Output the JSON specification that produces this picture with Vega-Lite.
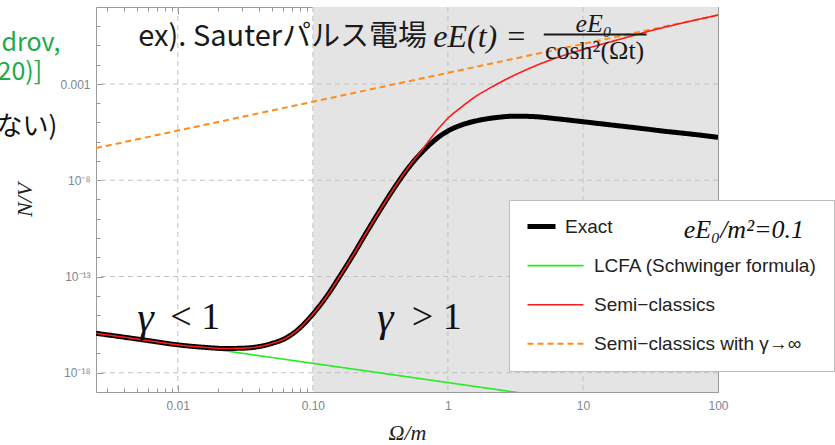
{
  "$schema": "https://vega.github.io/schema/vega-lite/v6.json",
  "width": 622,
  "height": 385,
  "autosize": {"type": "none"},
  "padding": {"left": 96, "top": 7, "right": 117, "bottom": 53},
  "background": "white",
  "config": {
    "view": {"stroke": "#9a9a9a", "strokeWidth": 1},
    "axis": {
      "labelFont": "Liberation Sans", "labelFontSize": 12, "labelColor": "#7d8591",
      "tickColor": "#9a9a9a", "tickWidth": 1, "domain": false, "grid": false,
      "labelOverlap": false, "labelFlush": false, "labelBound": false,
      "titleFont": "Liberation Serif", "titleFontStyle": "italic", "titleFontWeight": "normal",
      "titleFontSize": 22, "titleColor": "#222222"
    },
    "legend": {
      "orient": "none", "legendX": 413, "legendY": 193,
      "fillColor": "white", "strokeColor": "#bdbdbd", "padding": 17,
      "symbolType": "M-2.8,0H2.8", "symbolSize": 400, "symbolStrokeWidth": 1.6, "symbolOffset": 20,
      "labelFont": "Liberation Sans", "labelFontSize": 19, "labelColor": "#222222", "labelOffset": 29, "labelLimit": 400,
      "rowPadding": 19.1,
      "titleFont": "Liberation Serif", "titleFontStyle": "italic", "titleFontWeight": "normal", "titleFontSize": 26,
      "titleColor": "#111111", "titleAnchor": "end", "titlePadding": -26, "titleLimit": 400
    }
  },
  "datasets": {
    "shade": [{"x0": 0.1, "x1": 100}],
    "gridx": [{"v": 0.01}, {"v": 0.1}, {"v": 1}, {"v": 10}],
    "gridy": [{"v": 1e-18}, {"v": 1e-13}, {"v": 1e-8}, {"v": 0.001}],
    "curves": [
      {"s": "LCFA (Schwinger formula)", "x": 0.00248, "y": 1.24e-16},
      {"s": "LCFA (Schwinger formula)", "x": 0.01, "y": 3.09e-17},
      {"s": "LCFA (Schwinger formula)", "x": 0.1, "y": 3.09e-18},
      {"s": "LCFA (Schwinger formula)", "x": 1, "y": 3.09e-19},
      {"s": "LCFA (Schwinger formula)", "x": 3.5, "y": 8.8e-20},
      {"s": "Semi−classics with γ→∞", "x": 0.00248, "y": 4.68e-7},
      {"s": "Semi−classics with γ→∞", "x": 0.01, "y": 3.8e-6},
      {"s": "Semi−classics with γ→∞", "x": 0.1, "y": 1.2e-4},
      {"s": "Semi−classics with γ→∞", "x": 1, "y": 3.8e-3},
      {"s": "Semi−classics with γ→∞", "x": 10, "y": 0.12},
      {"s": "Semi−classics with γ→∞", "x": 100, "y": 3.8},
      {"s": "Exact", "x": 0.00248, "y": 1.12e-16},
      {"s": "Exact", "x": 0.00398, "y": 7.08e-17},
      {"s": "Exact", "x": 0.00631, "y": 4.47e-17},
      {"s": "Exact", "x": 0.01, "y": 2.82e-17},
      {"s": "Exact", "x": 0.0158, "y": 2.09e-17},
      {"s": "Exact", "x": 0.0224, "y": 1.82e-17},
      {"s": "Exact", "x": 0.0316, "y": 1.91e-17},
      {"s": "Exact", "x": 0.0398, "y": 2.29e-17},
      {"s": "Exact", "x": 0.0501, "y": 3.39e-17},
      {"s": "Exact", "x": 0.0631, "y": 6.31e-17},
      {"s": "Exact", "x": 0.0794, "y": 2.0e-16},
      {"s": "Exact", "x": 0.1, "y": 1.12e-15},
      {"s": "Exact", "x": 0.126, "y": 8.91e-15},
      {"s": "Exact", "x": 0.158, "y": 1e-13},
      {"s": "Exact", "x": 0.2, "y": 1.41e-12},
      {"s": "Exact", "x": 0.251, "y": 2.09e-11},
      {"s": "Exact", "x": 0.316, "y": 2.95e-10},
      {"s": "Exact", "x": 0.398, "y": 3.72e-9},
      {"s": "Exact", "x": 0.501, "y": 3.72e-8},
      {"s": "Exact", "x": 0.631, "y": 2.51e-7},
      {"s": "Exact", "x": 0.794, "y": 1.17e-6},
      {"s": "Exact", "x": 1, "y": 3.63e-6},
      {"s": "Exact", "x": 1.26, "y": 7.41e-6},
      {"s": "Exact", "x": 1.58, "y": 1.17e-5},
      {"s": "Exact", "x": 2.24, "y": 1.78e-5},
      {"s": "Exact", "x": 3.16, "y": 2.14e-5},
      {"s": "Exact", "x": 4.47, "y": 2.0e-5},
      {"s": "Exact", "x": 6.31, "y": 1.58e-5},
      {"s": "Exact", "x": 10, "y": 1.10e-5},
      {"s": "Exact", "x": 15.8, "y": 7.59e-6},
      {"s": "Exact", "x": 25.1, "y": 5.25e-6},
      {"s": "Exact", "x": 39.8, "y": 3.55e-6},
      {"s": "Exact", "x": 63.1, "y": 2.51e-6},
      {"s": "Exact", "x": 100, "y": 1.70e-6},
      {"s": "Semi−classics", "x": 0.00248, "y": 1.12e-16},
      {"s": "Semi−classics", "x": 0.00398, "y": 7.08e-17},
      {"s": "Semi−classics", "x": 0.00631, "y": 4.47e-17},
      {"s": "Semi−classics", "x": 0.01, "y": 2.82e-17},
      {"s": "Semi−classics", "x": 0.0158, "y": 2.09e-17},
      {"s": "Semi−classics", "x": 0.0224, "y": 1.82e-17},
      {"s": "Semi−classics", "x": 0.0316, "y": 1.91e-17},
      {"s": "Semi−classics", "x": 0.0398, "y": 2.29e-17},
      {"s": "Semi−classics", "x": 0.0501, "y": 3.39e-17},
      {"s": "Semi−classics", "x": 0.0631, "y": 6.31e-17},
      {"s": "Semi−classics", "x": 0.0794, "y": 2.0e-16},
      {"s": "Semi−classics", "x": 0.1, "y": 1.12e-15},
      {"s": "Semi−classics", "x": 0.126, "y": 8.91e-15},
      {"s": "Semi−classics", "x": 0.158, "y": 1e-13},
      {"s": "Semi−classics", "x": 0.2, "y": 1.41e-12},
      {"s": "Semi−classics", "x": 0.251, "y": 2.09e-11},
      {"s": "Semi−classics", "x": 0.316, "y": 2.95e-10},
      {"s": "Semi−classics", "x": 0.398, "y": 3.72e-9},
      {"s": "Semi−classics", "x": 0.501, "y": 3.98e-8},
      {"s": "Semi−classics", "x": 0.631, "y": 3.16e-7},
      {"s": "Semi−classics", "x": 0.794, "y": 2.63e-6},
      {"s": "Semi−classics", "x": 1, "y": 1.66e-5},
      {"s": "Semi−classics", "x": 1.26, "y": 6.31e-5},
      {"s": "Semi−classics", "x": 1.58, "y": 2.09e-4},
      {"s": "Semi−classics", "x": 2.0, "y": 5.62e-4},
      {"s": "Semi−classics", "x": 2.51, "y": 1.35e-3},
      {"s": "Semi−classics", "x": 3.16, "y": 3.02e-3},
      {"s": "Semi−classics", "x": 3.98, "y": 6.31e-3},
      {"s": "Semi−classics", "x": 5.01, "y": 1.23e-2},
      {"s": "Semi−classics", "x": 6.31, "y": 2.24e-2},
      {"s": "Semi−classics", "x": 7.94, "y": 3.8e-2},
      {"s": "Semi−classics", "x": 10, "y": 6.17e-2},
      {"s": "Semi−classics", "x": 15.8, "y": 0.151},
      {"s": "Semi−classics", "x": 25.1, "y": 0.372},
      {"s": "Semi−classics", "x": 39.8, "y": 0.871},
      {"s": "Semi−classics", "x": 63.1, "y": 1.86},
      {"s": "Semi−classics", "x": 100, "y": 3.8}
    ],
    "notes": [
      {"g": "jp", "t": "ex). Sauterパルス電場", "x": 0.0051, "y": 0.275},
      {"g": "mathI", "t": "eE(t)  =", "x": 0.78, "y": 0.275},
      {"g": "num", "t": "eE₀", "x": 12.0, "y": 1.31},
      {"g": "den", "t": "cosh²(Ωt)", "x": 12.2, "y": 0.0513},
      {"g": "gamma", "t": "γ", "x": 0.00501, "y": 6.9e-16},
      {"g": "gamma", "t": "γ", "x": 0.2985, "y": 6.9e-16},
      {"g": "rel", "t": "< 1", "x": 0.0088, "y": 6.9e-16},
      {"g": "rel", "t": "> 1", "x": 0.54, "y": 6.9e-16},
      {"g": "green", "t": "drov,", "x": 0.000495, "y": 0.135},
      {"g": "green", "t": "20)]", "x": 0.000463, "y": 0.0042},
      {"g": "side", "t": "ない)", "x": 0.000455, "y": 5.8e-6}
    ],
    "bar": [{"x": 5.13, "x2": 29.6, "y": 0.371}]
  },
  "layer": [
    {
      "data": {"name": "shade"},
      "mark": {"type": "rect", "color": "#e4e4e4"},
      "encoding": {
        "x": {"field": "x0", "type": "quantitative", "scale": {"type": "log", "domain": [0.00248, 100], "nice": false}, "axis": null},
        "x2": {"field": "x1"}
      }
    },
    {
      "data": {"name": "gridx"},
      "mark": {"type": "rule", "color": "#c2c2c2", "strokeWidth": 1, "strokeDash": [5, 4]},
      "encoding": {
        "x": {"field": "v", "type": "quantitative", "scale": {"type": "log", "domain": [0.00248, 100], "nice": false}, "axis": null}
      }
    },
    {
      "data": {"name": "gridy"},
      "mark": {"type": "rule", "color": "#c2c2c2", "strokeWidth": 1, "strokeDash": [5, 4]},
      "encoding": {
        "y": {"field": "v", "type": "quantitative", "scale": {"type": "log", "domain": [1e-19, 10], "nice": false}, "axis": null}
      }
    },
    {
      "data": {"name": "curves"},
      "transform": [{"filter": "datum.s === 'LCFA (Schwinger formula)'"}],
      "mark": {"type": "line", "strokeWidth": 1.6, "clip": true},
      "encoding": {
        "x": {"field": "x", "type": "quantitative", "scale": {"type": "log", "domain": [0.00248, 100], "nice": false},
          "axis": {"orient": "bottom", "title": "Ω/m", "titlePadding": 8, "labelPadding": 15,
            "values": [0.003,0.004,0.005,0.006,0.007,0.008,0.009,0.01,0.02,0.03,0.04,0.05,0.06,0.07,0.08,0.09,0.1,0.2,0.3,0.4,0.5,0.6,0.7,0.8,0.9,1,2,3,4,5,6,7,8,9,10,20,30,40,50,60,70,80,90,100],
            "labelExpr": "datum.value==0.01?'0.01':datum.value==0.1?'0.10':datum.value==1?'1':datum.value==10?'10':datum.value==100?'100':''",
            "tickSize": {"condition": {"test": "datum.value==0.01||datum.value==0.1||datum.value==1||datum.value==10||datum.value==100", "value": -7}, "value": -4}}},
        "y": {"field": "y", "type": "quantitative", "scale": {"type": "log", "domain": [1e-19, 10], "nice": false},
          "axis": {"orient": "left", "title": "N/V", "titlePadding": 23, "labelPadding": 13,
            "values": [1e-18,1e-17,1e-16,1e-15,1e-14,1e-13,1e-12,1e-11,1e-10,1e-9,1e-8,1e-7,1e-6,1e-5,1e-4,0.001,0.01,0.1,1],
            "labelExpr": "datum.value==0.001?'0.001':datum.value==1e-8?'10⁻⁸':datum.value==1e-13?'10⁻¹³':datum.value==1e-18?'10⁻¹⁸':''",
            "tickSize": {"condition": {"test": "datum.value==0.001||datum.value==1e-8||datum.value==1e-13||datum.value==1e-18", "value": -7}, "value": -4}}},
        "color": {"field": "s", "type": "nominal", "title": "eE₀/m²=0.1",
          "scale": {"domain": ["Exact", "LCFA (Schwinger formula)", "Semi−classics", "Semi−classics with γ→∞"], "range": ["#000000", "#22ee22", "#ff1a1a", "#ff8c1a"]},
          "legend": {"encode": {
            "symbols": {"update": {
              "shape": {"signal": "datum.value === 'Exact' ? 'M-2.8,0H0' : 'M-2.8,0H2.8'"},
              "strokeWidth": {"signal": "datum.value === 'Exact' ? 5 : datum.value === 'Semi−classics with γ→∞' ? 2 : 1.6"}}},
            "labels": {"update": {"dx": {"signal": "datum.value === 'Exact' ? -29 : 0"}}},
            "title": {"update": {"dx": {"value": -13}}}}}},
        "strokeDash": {"field": "s", "type": "nominal", "title": "eE₀/m²=0.1",
          "scale": {"domain": ["Exact", "LCFA (Schwinger formula)", "Semi−classics", "Semi−classics with γ→∞"], "range": [[1, 0], [1, 0], [1, 0], [6, 4]]}}
      }
    },
    {
      "data": {"name": "curves"},
      "transform": [{"filter": "datum.s === 'Semi−classics with γ→∞'"}],
      "mark": {"type": "line", "strokeWidth": 2, "clip": true},
      "encoding": {
        "x": {"field": "x", "type": "quantitative", "scale": {"type": "log", "domain": [0.00248, 100], "nice": false}, "axis": null},
        "y": {"field": "y", "type": "quantitative", "scale": {"type": "log", "domain": [1e-19, 10], "nice": false}, "axis": null},
        "color": {"field": "s", "type": "nominal", "title": "eE₀/m²=0.1",
          "scale": {"domain": ["Exact", "LCFA (Schwinger formula)", "Semi−classics", "Semi−classics with γ→∞"], "range": ["#000000", "#22ee22", "#ff1a1a", "#ff8c1a"]}},
        "strokeDash": {"field": "s", "type": "nominal", "title": "eE₀/m²=0.1",
          "scale": {"domain": ["Exact", "LCFA (Schwinger formula)", "Semi−classics", "Semi−classics with γ→∞"], "range": [[1, 0], [1, 0], [1, 0], [6, 4]]}}
      }
    },
    {
      "data": {"name": "curves"},
      "transform": [{"filter": "datum.s === 'Exact'"}],
      "mark": {"type": "line", "strokeWidth": 5, "clip": true, "interpolate": "monotone"},
      "encoding": {
        "x": {"field": "x", "type": "quantitative", "scale": {"type": "log", "domain": [0.00248, 100], "nice": false},
          "axis": {"orient": "top", "title": null, "labels": false,
            "values": [0.003,0.004,0.005,0.006,0.007,0.008,0.009,0.01,0.02,0.03,0.04,0.05,0.06,0.07,0.08,0.09,0.1,0.2,0.3,0.4,0.5,0.6,0.7,0.8,0.9,1,2,3,4,5,6,7,8,9,10,20,30,40,50,60,70,80,90,100],
            "tickSize": {"condition": {"test": "datum.value==0.01||datum.value==0.1||datum.value==1||datum.value==10||datum.value==100", "value": -7}, "value": -4}}},
        "y": {"field": "y", "type": "quantitative", "scale": {"type": "log", "domain": [1e-19, 10], "nice": false},
          "axis": {"orient": "right", "title": null, "labels": false,
            "values": [1e-18,1e-17,1e-16,1e-15,1e-14,1e-13,1e-12,1e-11,1e-10,1e-9,1e-8,1e-7,1e-6,1e-5,1e-4,0.001,0.01,0.1,1],
            "tickSize": {"condition": {"test": "datum.value==0.001||datum.value==1e-8||datum.value==1e-13||datum.value==1e-18", "value": -7}, "value": -4}}},
        "color": {"field": "s", "type": "nominal", "title": "eE₀/m²=0.1",
          "scale": {"domain": ["Exact", "LCFA (Schwinger formula)", "Semi−classics", "Semi−classics with γ→∞"], "range": ["#000000", "#22ee22", "#ff1a1a", "#ff8c1a"]}},
        "strokeDash": {"field": "s", "type": "nominal", "title": "eE₀/m²=0.1",
          "scale": {"domain": ["Exact", "LCFA (Schwinger formula)", "Semi−classics", "Semi−classics with γ→∞"], "range": [[1, 0], [1, 0], [1, 0], [6, 4]]}}
      }
    },
    {
      "data": {"name": "curves"},
      "transform": [{"filter": "datum.s === 'Semi−classics'"}],
      "mark": {"type": "line", "strokeWidth": 1.6, "clip": true, "interpolate": "monotone"},
      "encoding": {
        "x": {"field": "x", "type": "quantitative", "scale": {"type": "log", "domain": [0.00248, 100], "nice": false}, "axis": null},
        "y": {"field": "y", "type": "quantitative", "scale": {"type": "log", "domain": [1e-19, 10], "nice": false}, "axis": null},
        "color": {"field": "s", "type": "nominal", "title": "eE₀/m²=0.1",
          "scale": {"domain": ["Exact", "LCFA (Schwinger formula)", "Semi−classics", "Semi−classics with γ→∞"], "range": ["#000000", "#22ee22", "#ff1a1a", "#ff8c1a"]}},
        "strokeDash": {"field": "s", "type": "nominal", "title": "eE₀/m²=0.1",
          "scale": {"domain": ["Exact", "LCFA (Schwinger formula)", "Semi−classics", "Semi−classics with γ→∞"], "range": [[1, 0], [1, 0], [1, 0], [6, 4]]}}
      }
    },
    {
      "data": {"name": "notes"},
      "transform": [{"filter": "datum.g === 'jp'"}],
      "mark": {"type": "text", "font": "Noto Sans CJK JP", "fontSize": 29, "color": "#1a1a1a", "align": "left", "baseline": "middle"},
      "encoding": {
        "x": {"field": "x", "type": "quantitative", "scale": {"type": "log", "domain": [0.00248, 100], "nice": false}, "axis": null},
        "y": {"field": "y", "type": "quantitative", "scale": {"type": "log", "domain": [1e-19, 10], "nice": false}, "axis": null},
        "text": {"field": "t"}
      }
    },
    {
      "data": {"name": "notes"},
      "transform": [{"filter": "datum.g === 'mathI'"}],
      "mark": {"type": "text", "font": "Liberation Serif", "fontStyle": "italic", "fontSize": 32, "color": "#1a1a1a", "align": "left", "baseline": "middle"},
      "encoding": {
        "x": {"field": "x", "type": "quantitative", "scale": {"type": "log", "domain": [0.00248, 100], "nice": false}, "axis": null},
        "y": {"field": "y", "type": "quantitative", "scale": {"type": "log", "domain": [1e-19, 10], "nice": false}, "axis": null},
        "text": {"field": "t"}
      }
    },
    {
      "data": {"name": "notes"},
      "transform": [{"filter": "datum.g === 'num'"}],
      "mark": {"type": "text", "font": "Liberation Serif", "fontStyle": "italic", "fontSize": 26, "color": "#1a1a1a", "align": "center", "baseline": "middle"},
      "encoding": {
        "x": {"field": "x", "type": "quantitative", "scale": {"type": "log", "domain": [0.00248, 100], "nice": false}, "axis": null},
        "y": {"field": "y", "type": "quantitative", "scale": {"type": "log", "domain": [1e-19, 10], "nice": false}, "axis": null},
        "text": {"field": "t"}
      }
    },
    {
      "data": {"name": "notes"},
      "transform": [{"filter": "datum.g === 'den'"}],
      "mark": {"type": "text", "font": "Liberation Serif", "fontSize": 26, "color": "#1a1a1a", "align": "center", "baseline": "middle"},
      "encoding": {
        "x": {"field": "x", "type": "quantitative", "scale": {"type": "log", "domain": [0.00248, 100], "nice": false}, "axis": null},
        "y": {"field": "y", "type": "quantitative", "scale": {"type": "log", "domain": [1e-19, 10], "nice": false}, "axis": null},
        "text": {"field": "t"}
      }
    },
    {
      "data": {"name": "bar"},
      "mark": {"type": "rule", "color": "#1a1a1a", "strokeWidth": 2},
      "encoding": {
        "x": {"field": "x", "type": "quantitative", "scale": {"type": "log", "domain": [0.00248, 100], "nice": false}, "axis": null},
        "x2": {"field": "x2"},
        "y": {"field": "y", "type": "quantitative", "scale": {"type": "log", "domain": [1e-19, 10], "nice": false}, "axis": null}
      }
    },
    {
      "data": {"name": "notes"},
      "transform": [{"filter": "datum.g === 'gamma'"}],
      "mark": {"type": "text", "font": "Liberation Serif", "fontStyle": "italic", "fontSize": 42, "color": "#111111", "align": "left", "baseline": "middle"},
      "encoding": {
        "x": {"field": "x", "type": "quantitative", "scale": {"type": "log", "domain": [0.00248, 100], "nice": false}, "axis": null},
        "y": {"field": "y", "type": "quantitative", "scale": {"type": "log", "domain": [1e-19, 10], "nice": false}, "axis": null},
        "text": {"field": "t"}
      }
    },
    {
      "data": {"name": "notes"},
      "transform": [{"filter": "datum.g === 'rel'"}],
      "mark": {"type": "text", "font": "Liberation Serif", "fontSize": 38, "color": "#111111", "align": "left", "baseline": "middle"},
      "encoding": {
        "x": {"field": "x", "type": "quantitative", "scale": {"type": "log", "domain": [0.00248, 100], "nice": false}, "axis": null},
        "y": {"field": "y", "type": "quantitative", "scale": {"type": "log", "domain": [1e-19, 10], "nice": false}, "axis": null},
        "text": {"field": "t"}
      }
    },
    {
      "data": {"name": "notes"},
      "transform": [{"filter": "datum.g === 'green'"}],
      "mark": {"type": "text", "font": "Noto Sans CJK JP", "fontSize": 25, "color": "#1aab4b", "align": "left", "baseline": "middle"},
      "encoding": {
        "x": {"field": "x", "type": "quantitative", "scale": {"type": "log", "domain": [0.00248, 100], "nice": false}, "axis": null},
        "y": {"field": "y", "type": "quantitative", "scale": {"type": "log", "domain": [1e-19, 10], "nice": false}, "axis": null},
        "text": {"field": "t"}
      }
    },
    {
      "data": {"name": "notes"},
      "transform": [{"filter": "datum.g === 'side'"}],
      "mark": {"type": "text", "font": "Noto Sans CJK JP", "fontSize": 26, "color": "#111111", "align": "left", "baseline": "middle"},
      "encoding": {
        "x": {"field": "x", "type": "quantitative", "scale": {"type": "log", "domain": [0.00248, 100], "nice": false}, "axis": null},
        "y": {"field": "y", "type": "quantitative", "scale": {"type": "log", "domain": [1e-19, 10], "nice": false}, "axis": null},
        "text": {"field": "t"}
      }
    }
  ],
  "resolve": {"axis": {"x": "independent", "y": "independent"}}
}
